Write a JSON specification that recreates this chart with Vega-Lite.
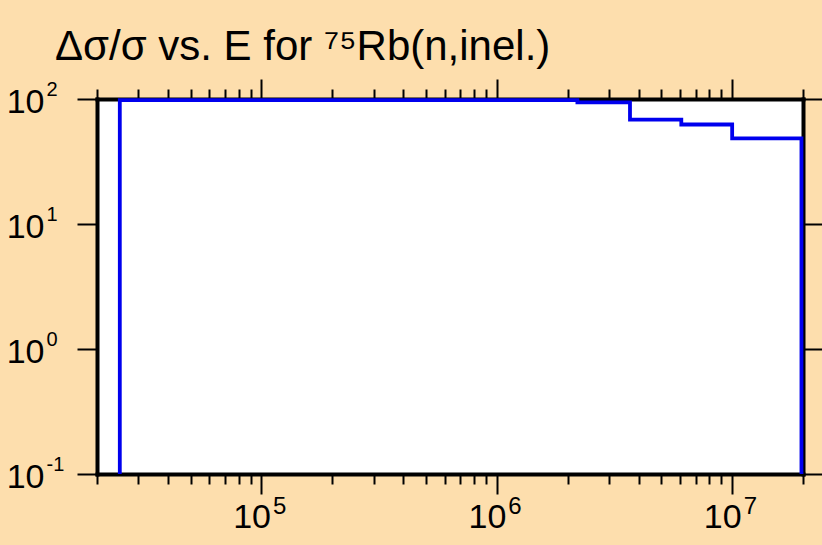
{
  "$schema": "https://vega.github.io/schema/vega-lite/v6.json",
  "width": 706,
  "height": 375,
  "autosize": {"type": "none"},
  "padding": {"left": 97, "top": 99, "right": 19, "bottom": 71},
  "background": "#FDDEAD",
  "config": {
    "view": {"fill": "#ffffff", "stroke": null},
    "axis": {
      "grid": false,
      "labelFont": "Liberation Sans",
      "labelColor": "#000000",
      "tickColor": "#000000",
      "tickWidth": 2,
      "domainColor": "#000000",
      "domainWidth": 4,
      "domainCap": "square",
      "labelOverlap": false,
      "labelFlush": false,
      "zindex": 0
    }
  },
  "title": {
    "text": "Δσ/σ vs. E for ⁷⁵Rb(n,inel.)",
    "anchor": "start",
    "frame": "group",
    "dx": -42,
    "offset": -24,
    "baseline": "alphabetic",
    "font": "Liberation Sans",
    "fontSize": 42,
    "fontWeight": "normal",
    "color": "#000000"
  },
  "data": {
    "values": [
      {"i": 0, "E": 25000, "r": 0.1},
      {"i": 1, "E": 25000, "r": 98},
      {"i": 2, "E": 2200000, "r": 94},
      {"i": 3, "E": 3680000, "r": 68.5},
      {"i": 4, "E": 6080000, "r": 62.5},
      {"i": 5, "E": 10000000, "r": 48.5},
      {"i": 6, "E": 19700000, "r": 48.5},
      {"i": 7, "E": 19700000, "r": 0.1}
    ]
  },
  "layer": [
    {
      "mark": {"type": "line", "interpolate": "step-after", "stroke": "#0000EE", "strokeWidth": 3.8},
      "encoding": {
        "x": {
          "field": "E", "type": "quantitative",
          "scale": {"type": "log", "domain": [20000, 20000000]},
          "axis": {
            "orient": "bottom", "values": [100000, 1000000, 10000000], "tickSize": 20,
            "labelExpr": "'10'", "labelAlign": "right", "labelOffset": 9,
            "labelBaseline": "alphabetic", "labelPadding": 33, "labelFontSize": 34, "title": null
          }
        },
        "y": {
          "field": "r", "type": "quantitative",
          "scale": {"type": "log", "domain": [0.1, 100]},
          "axis": {
            "orient": "left", "values": [0.1, 1, 10, 100], "tickSize": 20,
            "labelExpr": "'10'", "labelAlign": "right", "labelBaseline": "alphabetic",
            "labelOffset": 13, "labelPadding": 33, "labelFontSize": 34, "title": null
          }
        },
        "order": {"field": "i", "type": "quantitative"}
      }
    },
    {
      "mark": {"type": "line", "strokeOpacity": 0},
      "encoding": {
        "x": {
          "field": "E", "type": "quantitative",
          "scale": {"type": "log", "domain": [20000, 20000000]},
          "axis": {
            "orient": "bottom", "values": [100000, 1000000, 10000000], "ticks": false, "domain": false,
            "labelExpr": "'' + round(log(datum.value) / LN10)", "labelAlign": "left", "labelOffset": 11,
            "labelBaseline": "alphabetic", "labelPadding": 39, "labelFontSize": 24, "title": null
          }
        },
        "y": {
          "field": "r", "type": "quantitative",
          "scale": {"type": "log", "domain": [0.1, 100]},
          "axis": {
            "orient": "left", "values": [0.1, 1, 10, 100], "ticks": false, "domain": false,
            "labelExpr": "'' + round(log(datum.value) / LN10)", "labelAlign": "left",
            "labelBaseline": "alphabetic", "labelOffset": -4, "labelPadding": 51, "labelFontSize": 20, "title": null
          }
        },
        "order": {"field": "i", "type": "quantitative"}
      }
    },
    {
      "mark": {"type": "line", "strokeOpacity": 0},
      "encoding": {
        "x": {
          "field": "E", "type": "quantitative",
          "scale": {"type": "log", "domain": [20000, 20000000]},
          "axis": {
            "orient": "bottom",
            "values": [20000, 30000, 40000, 50000, 60000, 70000, 80000, 90000, 200000, 300000, 400000, 500000, 600000, 700000, 800000, 900000, 2000000, 3000000, 4000000, 5000000, 6000000, 7000000, 8000000, 9000000, 20000000],
            "tickSize": 10, "labels": false, "domain": false, "title": null
          }
        },
        "y": {
          "field": "r", "type": "quantitative",
          "scale": {"type": "log", "domain": [0.1, 100]},
          "axis": {
            "orient": "right", "values": [0.1, 1, 10, 100], "tickSize": 20, "labels": false, "title": null
          }
        },
        "order": {"field": "i", "type": "quantitative"}
      }
    },
    {
      "mark": {"type": "line", "strokeOpacity": 0},
      "encoding": {
        "x": {
          "field": "E", "type": "quantitative",
          "scale": {"type": "log", "domain": [20000, 20000000]},
          "axis": {
            "orient": "top", "values": [100000, 1000000, 10000000], "tickSize": 20, "labels": false, "title": null
          }
        },
        "y": {
          "field": "r", "type": "quantitative",
          "scale": {"type": "log", "domain": [0.1, 100]},
          "axis": null
        },
        "order": {"field": "i", "type": "quantitative"}
      }
    },
    {
      "mark": {"type": "line", "strokeOpacity": 0},
      "encoding": {
        "x": {
          "field": "E", "type": "quantitative",
          "scale": {"type": "log", "domain": [20000, 20000000]},
          "axis": {
            "orient": "top",
            "values": [20000, 30000, 40000, 50000, 60000, 70000, 80000, 90000, 200000, 300000, 400000, 500000, 600000, 700000, 800000, 900000, 2000000, 3000000, 4000000, 5000000, 6000000, 7000000, 8000000, 9000000, 20000000],
            "tickSize": 10, "labels": false, "domain": false, "title": null
          }
        },
        "y": {
          "field": "r", "type": "quantitative",
          "scale": {"type": "log", "domain": [0.1, 100]},
          "axis": null
        },
        "order": {"field": "i", "type": "quantitative"}
      }
    }
  ],
  "resolve": {"axis": {"x": "independent", "y": "independent"}}
}
